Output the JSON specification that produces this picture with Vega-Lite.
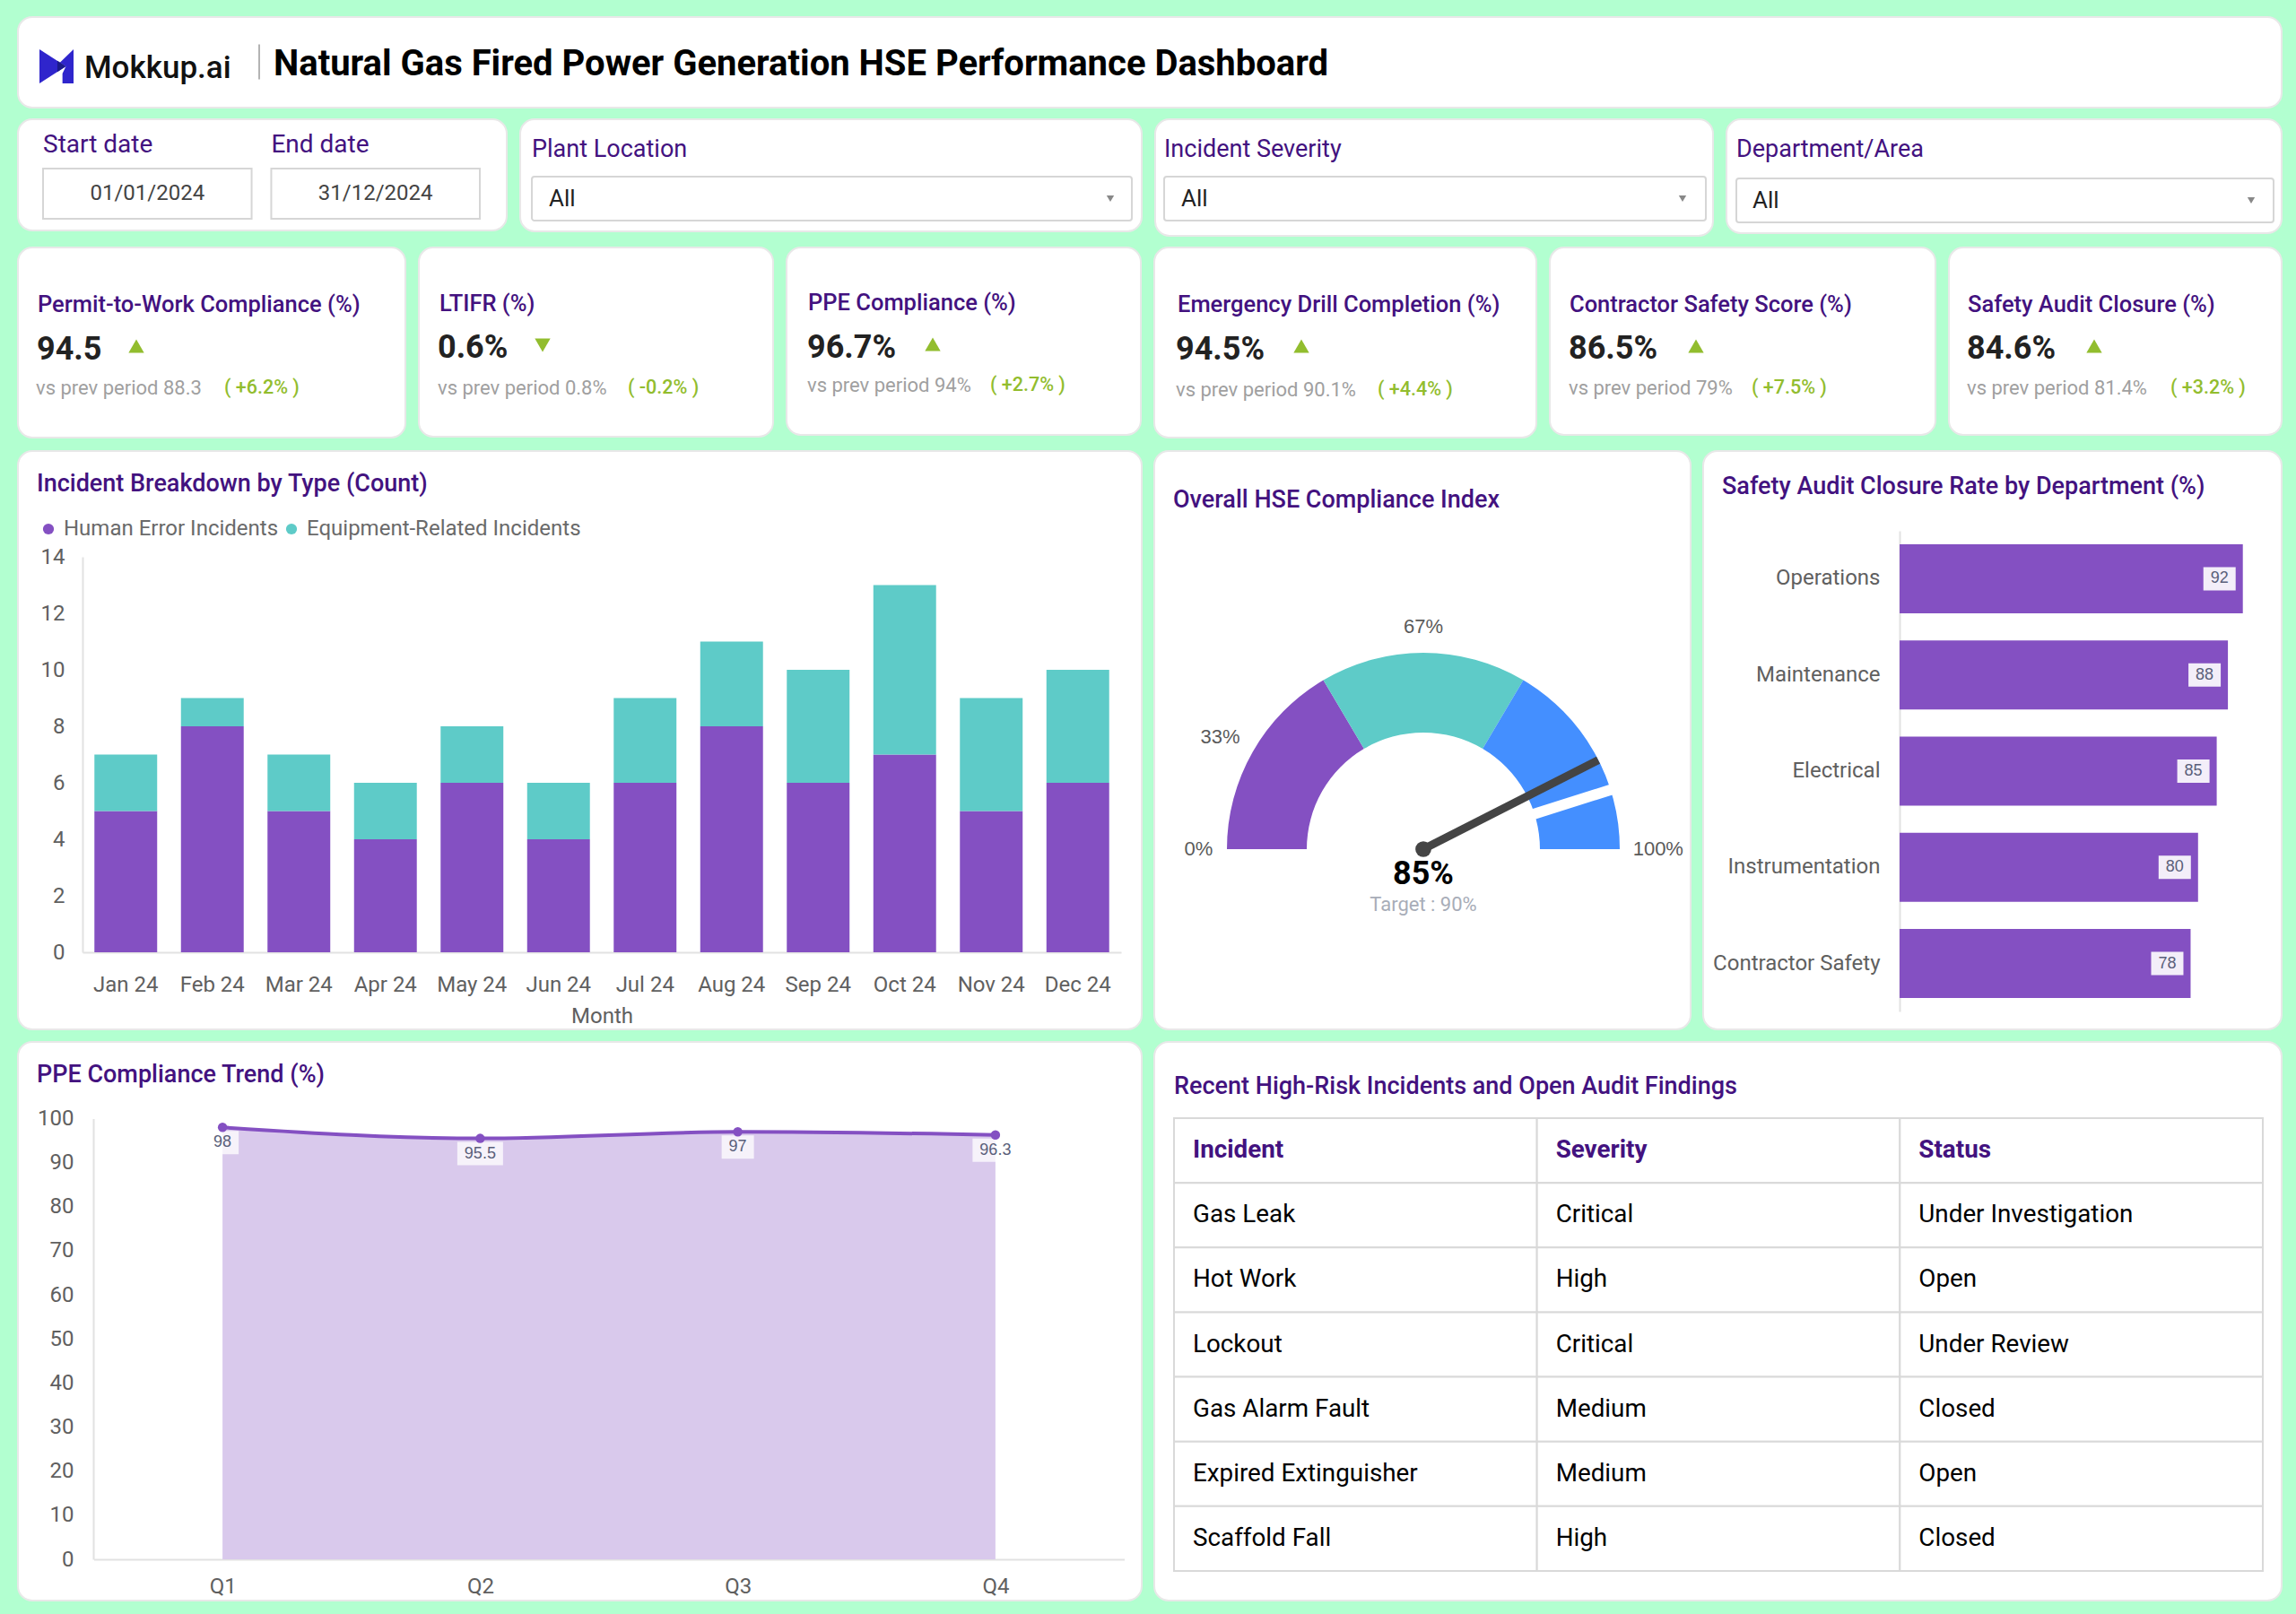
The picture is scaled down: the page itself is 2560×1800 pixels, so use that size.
{
"$schema":"https://vega.github.io/schema/vega-lite/v6.json",
"background":"#b2ffd0",
"padding":{"left":19,"top":18,"right":15,"bottom":14},
"config":{"font":"Roboto","view":{"stroke":null},"axis":{"labelFont":"Roboto","labelFontSize":24,"labelColor":"#606060","domainColor":"#e2e2e2","domainWidth":2,"ticks":false,"grid":false,"labelAngle":0}},
"spacing":0,
"resolve":{"scale":{"color":"independent"},"legend":{"color":"independent"}},
"vconcat":[
{"width":2524,"height":101,"view":{"fill":"white","stroke":"#e8e8e8","strokeWidth":2,"cornerRadius":16},
 "data":{"values":[{"slot":1,"part":"logo"},{"slot":2,"text":"Mokkup.ai"},{"slot":3,"part":"divider"},{"slot":4,"text":"Natural Gas Fired Power Generation HSE Performance Dashboard"}]},
 "encoding":{"x":{"field":"slot","type":"quantitative","axis":null,"scale":{"domain":[1,2,3,4],"range":[43,74,269,285]}},"y":{"field":"slot","type":"quantitative","axis":null,"scale":{"domain":[1,2,3,4],"range":[55,57,50,53]}}},
 "layer":[
  {"transform":[{"filter":"datum.slot==1"}],"mark":{"type":"point","filled":true,"opacity":1,"color":"#2f25cc","size":1444,"shape":"M-1,-1L0.55,0L-1,1Z"}},
  {"transform":[{"filter":"datum.slot==1"}],"mark":{"type":"point","filled":true,"opacity":1,"color":"#2f25cc","size":1444,"shape":"M1,-1L1,1L0.35,1L0.35,0.42L0.55,0L0.2,-0.22Z"}},
  {"transform":[{"filter":"datum.slot==1"}],"mark":{"type":"point","filled":true,"opacity":1,"color":"#1b1a8a","size":1444,"shape":"M0.05,-0.33L0.55,0L0.05,0.33Z"}},
  {"transform":[{"filter":"datum.slot==2"}],"mark":{"type":"text","align":"left","fontSize":35,"fontWeight":500,"color":"#111111"},"encoding":{"text":{"field":"text"}}},
  {"transform":[{"filter":"datum.slot==3"}],"mark":{"type":"point","filled":false,"opacity":1,"color":"#9a9a9a","strokeWidth":1.5,"size":1521,"shape":"M0,-1L0,1"}},
  {"transform":[{"filter":"datum.slot==4"}],"mark":{"type":"text","align":"left","fontSize":40,"fontWeight":700,"color":"#000000"},"encoding":{"text":{"field":"text"}}}
 ]},
{"width":1,"height":11,"data":{"values":[]},"mark":"rect"},
{"spacing":13,"resolve":{"scale":{"color":"independent"},"legend":{"color":"independent"}},"hconcat":[
 {"width":545,"height":124,"view":{"fill":"white","stroke":"#e8e8e8","strokeWidth":2,"cornerRadius":16},
  "data":{"values":[{"field":"Start date","value":"01/01/2024"},{"field":"End date","value":"31/12/2024"}]},
  "encoding":{"y":{"datum":"box","type":"nominal","scale":{"type":"band","domain":["box"],"range":[55,111],"padding":0},"axis":null}},
  "layer":[
   {"mark":{"type":"rect","fill":"white","stroke":"#d6d6d6","strokeWidth":2},"encoding":{"x":{"field":"field","type":"nominal","axis":null,"scale":{"type":"band","domain":["Start date","End date"],"range":[28,515],"paddingInner":0.086,"paddingOuter":0}}}},
   {"mark":{"type":"text","align":"center","fontSize":24,"color":"#444444"},"encoding":{"x":{"field":"field","type":"nominal","axis":null},"text":{"field":"value"}}},
   {"mark":{"type":"text","align":"left","fontSize":28,"dy":-54,"color":"#43127f"},"encoding":{"x":{"field":"field","type":"nominal","axis":null,"bandPosition":0},"text":{"field":"field"}}}
  ]},
 {"width":693,"height":125,"view":{"fill":"white","stroke":"#e8e8e8","strokeWidth":2,"cornerRadius":16},
  "data":{"values":[{"field":"Plant Location","value":"All"}]},
  "encoding":{"y":{"datum":"box","type":"nominal","scale":{"type":"band","domain":["box"],"range":[64,113],"padding":0},"axis":null}},
  "layer":[
   {"mark":{"type":"rect","fill":"white","stroke":"#d6d6d6","strokeWidth":2,"cornerRadius":3},"encoding":{"x":{"field":"field","type":"nominal","axis":null,"scale":{"type":"band","domain":["Plant Location"],"range":[13,682],"padding":0}}}},
   {"mark":{"type":"text","align":"left","fontSize":26,"dx":19,"color":"#222222"},"encoding":{"x":{"field":"field","type":"nominal","axis":null,"bandPosition":0},"text":{"field":"value"}}},
   {"mark":{"type":"text","align":"left","fontSize":27,"dy":-55,"color":"#43127f"},"encoding":{"x":{"field":"field","type":"nominal","axis":null,"bandPosition":0},"text":{"field":"field"}}},
   {"mark":{"type":"point","shape":"triangle-down","filled":true,"opacity":1,"size":70,"color":"#888888","xOffset":-24},"encoding":{"x":{"field":"field","type":"nominal","axis":null,"bandPosition":1}}}
  ]},
 {"width":622,"height":130,"view":{"fill":"white","stroke":"#e8e8e8","strokeWidth":2,"cornerRadius":16},
  "data":{"values":[{"field":"Incident Severity","value":"All"}]},
  "encoding":{"y":{"datum":"box","type":"nominal","scale":{"type":"band","domain":["box"],"range":[64,113],"padding":0},"axis":null}},
  "layer":[
   {"mark":{"type":"rect","fill":"white","stroke":"#d6d6d6","strokeWidth":2,"cornerRadius":3},"encoding":{"x":{"field":"field","type":"nominal","axis":null,"scale":{"type":"band","domain":["Incident Severity"],"range":[10,614],"padding":0}}}},
   {"mark":{"type":"text","align":"left","fontSize":26,"dx":19,"color":"#222222"},"encoding":{"x":{"field":"field","type":"nominal","axis":null,"bandPosition":0},"text":{"field":"value"}}},
   {"mark":{"type":"text","align":"left","fontSize":27,"dy":-55,"color":"#43127f"},"encoding":{"x":{"field":"field","type":"nominal","axis":null,"bandPosition":0},"text":{"field":"field"}}},
   {"mark":{"type":"point","shape":"triangle-down","filled":true,"opacity":1,"size":70,"color":"#888888","xOffset":-26},"encoding":{"x":{"field":"field","type":"nominal","axis":null,"bandPosition":1}}}
  ]},
 {"width":619,"height":127,"view":{"fill":"white","stroke":"#e8e8e8","strokeWidth":2,"cornerRadius":16},
  "data":{"values":[{"field":"Department/Area","value":"All"}]},
  "encoding":{"y":{"datum":"box","type":"nominal","scale":{"type":"band","domain":["box"],"range":[66,115],"padding":0},"axis":null}},
  "layer":[
   {"mark":{"type":"rect","fill":"white","stroke":"#d6d6d6","strokeWidth":2,"cornerRadius":3},"encoding":{"x":{"field":"field","type":"nominal","axis":null,"scale":{"type":"band","domain":["Department/Area"],"range":[11,610],"padding":0}}}},
   {"mark":{"type":"text","align":"left","fontSize":26,"dx":18,"color":"#222222"},"encoding":{"x":{"field":"field","type":"nominal","axis":null,"bandPosition":0},"text":{"field":"value"}}},
   {"mark":{"type":"text","align":"left","fontSize":27,"dy":-57,"color":"#43127f"},"encoding":{"x":{"field":"field","type":"nominal","axis":null,"bandPosition":0},"text":{"field":"field"}}},
   {"mark":{"type":"point","shape":"triangle-down","filled":true,"opacity":1,"size":70,"color":"#888888","xOffset":-25},"encoding":{"x":{"field":"field","type":"nominal","axis":null,"bandPosition":1}}}
  ]}
]},
{"width":1,"height":11,"data":{"values":[]},"mark":"rect"},
{"spacing":13,"resolve":{"scale":{"color":"independent"},"legend":{"color":"independent"}},"hconcat":[
 {"width":432,"height":212,"view":{"fill":"white","stroke":"#e8e8e8","strokeWidth":2,"cornerRadius":16},
  "data":{"values":[{"slot":1,"text":"Permit-to-Work Compliance (%)"},{"slot":2,"text":"94.5"},{"slot":3,"trend":"triangle-up"},{"slot":4,"text":"vs prev period 88.3"},{"slot":5,"text":"( +6.2% )"}]},
  "encoding":{"x":{"field":"slot","type":"quantitative","axis":null,"scale":{"domain":[1,2,3,4,5],"range":[22,21,132,20,230]}},"y":{"field":"slot","type":"quantitative","axis":null,"scale":{"domain":[1,2,3,4,5],"range":[64,114,110,157,157]}}},
  "layer":[
   {"transform":[{"filter":"datum.slot==1"}],"mark":{"type":"text","align":"left","fontSize":25.5,"fontWeight":500,"color":"#43127f"},"encoding":{"text":{"field":"text"}}},
   {"transform":[{"filter":"datum.slot==2"}],"mark":{"type":"text","align":"left","fontSize":36,"fontWeight":700,"color":"#222222"},"encoding":{"text":{"field":"text"}}},
   {"transform":[{"filter":"datum.slot==3"}],"mark":{"type":"point","filled":true,"opacity":1,"size":300,"color":"#92bd2e"},"encoding":{"shape":{"field":"trend","type":"nominal","scale":null,"legend":null}}},
   {"transform":[{"filter":"datum.slot==4"}],"mark":{"type":"text","align":"left","fontSize":22,"color":"#a0a0a0"},"encoding":{"text":{"field":"text"}}},
   {"transform":[{"filter":"datum.slot==5"}],"mark":{"type":"text","align":"left","fontSize":21.5,"fontWeight":500,"color":"#92bd2e"},"encoding":{"text":{"field":"text"}}}
  ]},
 {"width":395,"height":211,"view":{"fill":"white","stroke":"#e8e8e8","strokeWidth":2,"cornerRadius":16},
  "data":{"values":[{"slot":1,"text":"LTIFR (%)"},{"slot":2,"text":"0.6%"},{"slot":3,"trend":"triangle-down"},{"slot":4,"text":"vs prev period 0.8%"},{"slot":5,"text":"( -0.2% )"}]},
  "encoding":{"x":{"field":"slot","type":"quantitative","axis":null,"scale":{"domain":[1,2,3,4,5],"range":[23,21,138,21,233]}},"y":{"field":"slot","type":"quantitative","axis":null,"scale":{"domain":[1,2,3,4,5],"range":[62.5,112,109,156.5,156.5]}}},
  "layer":[
   {"transform":[{"filter":"datum.slot==1"}],"mark":{"type":"text","align":"left","fontSize":25.5,"fontWeight":500,"color":"#43127f"},"encoding":{"text":{"field":"text"}}},
   {"transform":[{"filter":"datum.slot==2"}],"mark":{"type":"text","align":"left","fontSize":36,"fontWeight":700,"color":"#222222"},"encoding":{"text":{"field":"text"}}},
   {"transform":[{"filter":"datum.slot==3"}],"mark":{"type":"point","filled":true,"opacity":1,"size":300,"color":"#92bd2e"},"encoding":{"shape":{"field":"trend","type":"nominal","scale":null,"legend":null}}},
   {"transform":[{"filter":"datum.slot==4"}],"mark":{"type":"text","align":"left","fontSize":22,"color":"#a0a0a0"},"encoding":{"text":{"field":"text"}}},
   {"transform":[{"filter":"datum.slot==5"}],"mark":{"type":"text","align":"left","fontSize":21.5,"fontWeight":500,"color":"#92bd2e"},"encoding":{"text":{"field":"text"}}}
  ]},
 {"width":395,"height":209,"view":{"fill":"white","stroke":"#e8e8e8","strokeWidth":2,"cornerRadius":16},
  "data":{"values":[{"slot":1,"text":"PPE Compliance (%)"},{"slot":2,"text":"96.7%"},{"slot":3,"trend":"triangle-up"},{"slot":4,"text":"vs prev period 94%"},{"slot":5,"text":"( +2.7% )"}]},
  "encoding":{"x":{"field":"slot","type":"quantitative","axis":null,"scale":{"domain":[1,2,3,4,5],"range":[24,23,163,23,227]}},"y":{"field":"slot","type":"quantitative","axis":null,"scale":{"domain":[1,2,3,4,5],"range":[62,112,108,154,154]}}},
  "layer":[
   {"transform":[{"filter":"datum.slot==1"}],"mark":{"type":"text","align":"left","fontSize":25.5,"fontWeight":500,"color":"#43127f"},"encoding":{"text":{"field":"text"}}},
   {"transform":[{"filter":"datum.slot==2"}],"mark":{"type":"text","align":"left","fontSize":36,"fontWeight":700,"color":"#222222"},"encoding":{"text":{"field":"text"}}},
   {"transform":[{"filter":"datum.slot==3"}],"mark":{"type":"point","filled":true,"opacity":1,"size":300,"color":"#92bd2e"},"encoding":{"shape":{"field":"trend","type":"nominal","scale":null,"legend":null}}},
   {"transform":[{"filter":"datum.slot==4"}],"mark":{"type":"text","align":"left","fontSize":22,"color":"#a0a0a0"},"encoding":{"text":{"field":"text"}}},
   {"transform":[{"filter":"datum.slot==5"}],"mark":{"type":"text","align":"left","fontSize":21.5,"fontWeight":500,"color":"#92bd2e"},"encoding":{"text":{"field":"text"}}}
  ]},
 {"width":426,"height":212,"view":{"fill":"white","stroke":"#e8e8e8","strokeWidth":2,"cornerRadius":16},
  "data":{"values":[{"slot":1,"text":"Emergency Drill Completion (%)"},{"slot":2,"text":"94.5%"},{"slot":3,"trend":"triangle-up"},{"slot":4,"text":"vs prev period 90.1%"},{"slot":5,"text":"( +4.4% )"}]},
  "encoding":{"x":{"field":"slot","type":"quantitative","axis":null,"scale":{"domain":[1,2,3,4,5],"range":[26,24,164,24,249]}},"y":{"field":"slot","type":"quantitative","axis":null,"scale":{"domain":[1,2,3,4,5],"range":[64,114,110,159,159]}}},
  "layer":[
   {"transform":[{"filter":"datum.slot==1"}],"mark":{"type":"text","align":"left","fontSize":25.5,"fontWeight":500,"color":"#43127f"},"encoding":{"text":{"field":"text"}}},
   {"transform":[{"filter":"datum.slot==2"}],"mark":{"type":"text","align":"left","fontSize":36,"fontWeight":700,"color":"#222222"},"encoding":{"text":{"field":"text"}}},
   {"transform":[{"filter":"datum.slot==3"}],"mark":{"type":"point","filled":true,"opacity":1,"size":300,"color":"#92bd2e"},"encoding":{"shape":{"field":"trend","type":"nominal","scale":null,"legend":null}}},
   {"transform":[{"filter":"datum.slot==4"}],"mark":{"type":"text","align":"left","fontSize":22,"color":"#a0a0a0"},"encoding":{"text":{"field":"text"}}},
   {"transform":[{"filter":"datum.slot==5"}],"mark":{"type":"text","align":"left","fontSize":21.5,"fontWeight":500,"color":"#92bd2e"},"encoding":{"text":{"field":"text"}}}
  ]},
 {"width":430,"height":209,"view":{"fill":"white","stroke":"#e8e8e8","strokeWidth":2,"cornerRadius":16},
  "data":{"values":[{"slot":1,"text":"Contractor Safety Score (%)"},{"slot":2,"text":"86.5%"},{"slot":3,"trend":"triangle-up"},{"slot":4,"text":"vs prev period 79%"},{"slot":5,"text":"( +7.5% )"}]},
  "encoding":{"x":{"field":"slot","type":"quantitative","axis":null,"scale":{"domain":[1,2,3,4,5],"range":[22,21,163,21,225]}},"y":{"field":"slot","type":"quantitative","axis":null,"scale":{"domain":[1,2,3,4,5],"range":[64,113,110,157,157]}}},
  "layer":[
   {"transform":[{"filter":"datum.slot==1"}],"mark":{"type":"text","align":"left","fontSize":25.5,"fontWeight":500,"color":"#43127f"},"encoding":{"text":{"field":"text"}}},
   {"transform":[{"filter":"datum.slot==2"}],"mark":{"type":"text","align":"left","fontSize":36,"fontWeight":700,"color":"#222222"},"encoding":{"text":{"field":"text"}}},
   {"transform":[{"filter":"datum.slot==3"}],"mark":{"type":"point","filled":true,"opacity":1,"size":300,"color":"#92bd2e"},"encoding":{"shape":{"field":"trend","type":"nominal","scale":null,"legend":null}}},
   {"transform":[{"filter":"datum.slot==4"}],"mark":{"type":"text","align":"left","fontSize":22,"color":"#a0a0a0"},"encoding":{"text":{"field":"text"}}},
   {"transform":[{"filter":"datum.slot==5"}],"mark":{"type":"text","align":"left","fontSize":21.5,"fontWeight":500,"color":"#92bd2e"},"encoding":{"text":{"field":"text"}}}
  ]},
 {"width":371,"height":209,"view":{"fill":"white","stroke":"#e8e8e8","strokeWidth":2,"cornerRadius":16},
  "data":{"values":[{"slot":1,"text":"Safety Audit Closure (%)"},{"slot":2,"text":"84.6%"},{"slot":3,"trend":"triangle-up"},{"slot":4,"text":"vs prev period 81.4%"},{"slot":5,"text":"( +3.2% )"}]},
  "encoding":{"x":{"field":"slot","type":"quantitative","axis":null,"scale":{"domain":[1,2,3,4,5],"range":[21,20,162,20,247]}},"y":{"field":"slot","type":"quantitative","axis":null,"scale":{"domain":[1,2,3,4,5],"range":[64,113,110,157,157]}}},
  "layer":[
   {"transform":[{"filter":"datum.slot==1"}],"mark":{"type":"text","align":"left","fontSize":25.5,"fontWeight":500,"color":"#43127f"},"encoding":{"text":{"field":"text"}}},
   {"transform":[{"filter":"datum.slot==2"}],"mark":{"type":"text","align":"left","fontSize":36,"fontWeight":700,"color":"#222222"},"encoding":{"text":{"field":"text"}}},
   {"transform":[{"filter":"datum.slot==3"}],"mark":{"type":"point","filled":true,"opacity":1,"size":300,"color":"#92bd2e"},"encoding":{"shape":{"field":"trend","type":"nominal","scale":null,"legend":null}}},
   {"transform":[{"filter":"datum.slot==4"}],"mark":{"type":"text","align":"left","fontSize":22,"color":"#a0a0a0"},"encoding":{"text":{"field":"text"}}},
   {"transform":[{"filter":"datum.slot==5"}],"mark":{"type":"text","align":"left","fontSize":21.5,"fontWeight":500,"color":"#92bd2e"},"encoding":{"text":{"field":"text"}}}
  ]}
]},
{"width":1,"height":13,"data":{"values":[]},"mark":"rect"},
{"spacing":12,"resolve":{"scale":{"color":"independent"},"legend":{"color":"independent"}},"hconcat":[
 {"width":1253,"height":645,"view":{"fill":"white","stroke":"#e8e8e8","strokeWidth":2,"cornerRadius":16},
  "title":{"text":"Incident Breakdown by Type (Count)","anchor":"start","frame":"group","offset":-64,"baseline":"middle","dx":21,"fontSize":27,"fontWeight":500,"color":"#43127f"},
  "data":{"values":[
   {"month":"Jan 24","type":"Human Error Incidents","count":5},{"month":"Jan 24","type":"Equipment-Related Incidents","count":2},
   {"month":"Feb 24","type":"Human Error Incidents","count":8},{"month":"Feb 24","type":"Equipment-Related Incidents","count":1},
   {"month":"Mar 24","type":"Human Error Incidents","count":5},{"month":"Mar 24","type":"Equipment-Related Incidents","count":2},
   {"month":"Apr 24","type":"Human Error Incidents","count":4},{"month":"Apr 24","type":"Equipment-Related Incidents","count":2},
   {"month":"May 24","type":"Human Error Incidents","count":6},{"month":"May 24","type":"Equipment-Related Incidents","count":2},
   {"month":"Jun 24","type":"Human Error Incidents","count":4},{"month":"Jun 24","type":"Equipment-Related Incidents","count":2},
   {"month":"Jul 24","type":"Human Error Incidents","count":6},{"month":"Jul 24","type":"Equipment-Related Incidents","count":3},
   {"month":"Aug 24","type":"Human Error Incidents","count":8},{"month":"Aug 24","type":"Equipment-Related Incidents","count":3},
   {"month":"Sep 24","type":"Human Error Incidents","count":6},{"month":"Sep 24","type":"Equipment-Related Incidents","count":4},
   {"month":"Oct 24","type":"Human Error Incidents","count":7},{"month":"Oct 24","type":"Equipment-Related Incidents","count":6},
   {"month":"Nov 24","type":"Human Error Incidents","count":5},{"month":"Nov 24","type":"Equipment-Related Incidents","count":4},
   {"month":"Dec 24","type":"Human Error Incidents","count":6},{"month":"Dec 24","type":"Equipment-Related Incidents","count":4}
  ]},
  "layer":[{"mark":{"type":"bar"},
   "encoding":{
    "x":{"field":"month","type":"nominal","scale":{"type":"band","domain":["Jan 24","Feb 24","Mar 24","Apr 24","May 24","Jun 24","Jul 24","Aug 24","Sep 24","Oct 24","Nov 24","Dec 24"],"range":[72,1230],"paddingInner":0.275,"paddingOuter":0.1375},"axis":{"offset":-86,"labelPadding":24,"title":"Month","titleFont":"Roboto","titleFontSize":24,"titleFontWeight":400,"titleColor":"#606060","titlePadding":11}},
    "y":{"field":"count","type":"quantitative","stack":"zero","scale":{"domain":[0,14],"range":[559,118]},"axis":{"title":null,"offset":-72,"labelPadding":20,"values":[0,2,4,6,8,10,12,14]}},
    "color":{"field":"type","type":"nominal","scale":{"domain":["Human Error Incidents","Equipment-Related Incidents"],"range":["#8450c2","#5ecbc8"]},"legend":{"orient":"none","legendX":22,"legendY":75,"direction":"horizontal","title":null,"symbolType":"circle","symbolSize":150,"symbolOpacity":1,"labelFont":"Roboto","labelFontSize":24,"labelColor":"#6a6a6a","labelLimit":500,"columnPadding":2,"labelOffset":5,"columns":2}},
    "order":{"field":"type","sort":"descending"}
   }}]},
 {"width":598,"height":645,"view":{"fill":"white","stroke":"#e8e8e8","strokeWidth":2,"cornerRadius":16},
  "title":{"text":"Overall HSE Compliance Index","anchor":"start","frame":"group","offset":-82,"baseline":"middle","dx":21,"fontSize":27,"fontWeight":500,"color":"#43127f"},
  "layer":[
   {"data":{"values":[{"band":"low","from":0,"to":33},{"band":"mid","from":33,"to":67},{"band":"high","from":67,"to":100}]},
    "mark":{"type":"arc","radius":219,"radius2":130,"xOffset":1,"yOffset":121.5},
    "encoding":{
     "theta":{"field":"from","type":"quantitative","scale":{"domain":[0,100],"range":[-1.5708,1.5708]}},
     "theta2":{"field":"to"},
     "color":{"field":"band","type":"nominal","scale":{"domain":["low","mid","high"],"range":["#8450c2","#5ecbc8","#448fff"]},"legend":null}
    }},
   {"data":{"values":[{"pct":90}]},
    "mark":{"type":"rule","color":"white","strokeWidth":12},
    "encoding":{"x":{"field":"pct","type":"quantitative","axis":null,"scale":{"domain":[0,33,67,85,90,100],"range":[49.5,73.6,300,495,524,561.8]}},"y":{"field":"pct","type":"quantitative","axis":null,"scale":{"domain":[0,33,67,85,90,100],"range":[444,318.7,196,344.7,373,444]}},"x2":{"datum":67},"y2":{"datum":0}}},
   {"data":{"values":[{"pct":85}]},
    "mark":{"type":"rule","color":"#444444","strokeWidth":9},
    "encoding":{"x":{"field":"pct","type":"quantitative"},"y":{"field":"pct","type":"quantitative"},"x2":{"datum":67},"y2":{"datum":0}}},
   {"data":{"values":[{"pct":85}]},
    "mark":{"type":"point","filled":true,"opacity":1,"size":314,"color":"#444444"},
    "encoding":{"x":{"datum":67,"type":"quantitative"},"y":{"datum":0,"type":"quantitative"}}},
   {"data":{"values":[{"pct":0,"label":"0%"},{"pct":33,"label":"33%"},{"pct":67,"label":"67%"},{"pct":100,"label":"100%"}]},
    "mark":{"type":"text","font":"Liberation Sans","fontSize":22,"color":"#5a5a5a"},
    "encoding":{"x":{"field":"pct","type":"quantitative"},"y":{"field":"pct","type":"quantitative"},"text":{"field":"label"}}},
   {"data":{"values":[{"label":"85%"}]},
    "mark":{"type":"text","fontSize":36,"fontWeight":700,"dy":28,"color":"#000000"},
    "encoding":{"x":{"datum":67,"type":"quantitative"},"y":{"datum":0,"type":"quantitative"},"text":{"field":"label"}}},
   {"data":{"values":[{"label":"Target : 90%"}]},
    "mark":{"type":"text","fontSize":22,"dy":62,"color":"#a8adb8"},
    "encoding":{"x":{"datum":67,"type":"quantitative"},"y":{"datum":0,"type":"quantitative"},"text":{"field":"label"}}}
  ]},
 {"width":645,"height":645,"view":{"fill":"white","stroke":"#e8e8e8","strokeWidth":2,"cornerRadius":16},
  "title":{"text":"Safety Audit Closure Rate by Department (%)","anchor":"start","frame":"group","offset":-67,"baseline":"middle","dx":21,"fontSize":27,"fontWeight":500,"color":"#43127f"},
  "data":{"values":[{"dept":"Operations","rate":92},{"dept":"Maintenance","rate":88},{"dept":"Electrical","rate":85},{"dept":"Instrumentation","rate":80},{"dept":"Contractor Safety","rate":78}]},
  "encoding":{
   "x":{"field":"rate","type":"quantitative","axis":null,"scale":{"domain":[0,100],"range":[219,635]}},
   "y":{"field":"dept","type":"nominal","scale":{"type":"band","domain":["Operations","Maintenance","Electrical","Instrumentation","Contractor Safety"],"range":[89,625],"paddingInner":0.283,"paddingOuter":0.14},"axis":{"title":null,"offset":-219,"labelPadding":22,"labelLimit":300}}
  },
  "layer":[
   {"mark":{"type":"bar","color":"#8450c2"}},
   {"mark":{"type":"point","filled":true,"opacity":0.9,"color":"white","size":1296,"shape":"M-1,-0.722H1V0.722H-1Z","xOffset":-26}},
   {"mark":{"type":"text","font":"Liberation Sans","fontSize":18,"color":"#5a5f7a","xOffset":-26},"encoding":{"text":{"field":"rate"}}}
  ]}
]},
{"width":1,"height":12,"data":{"values":[]},"mark":"rect"},
{"spacing":12,"resolve":{"scale":{"color":"independent"},"legend":{"color":"independent"}},"hconcat":[
 {"width":1253,"height":623,"view":{"fill":"white","stroke":"#e8e8e8","strokeWidth":2,"cornerRadius":16},
  "title":{"text":"PPE Compliance Trend (%)","anchor":"start","frame":"group","offset":-64,"baseline":"middle","dx":21,"fontSize":27,"fontWeight":500,"color":"#43127f"},
  "data":{"values":[{"quarter":"Q1","ppe":98},{"quarter":"Q2","ppe":95.5},{"quarter":"Q3","ppe":97},{"quarter":"Q4","ppe":96.3}]},
  "encoding":{
   "x":{"field":"quarter","type":"nominal","scale":{"type":"point","domain":["Q1","Q2","Q3","Q4"],"range":[84.5,1233.5],"padding":0.5},"axis":{"title":null,"offset":-46,"labelPadding":18}},
   "y":{"field":"ppe","type":"quantitative","scale":{"domain":[0,100],"range":[577,85.5]},"axis":{"title":null,"offset":-84,"labelPadding":22,"values":[0,10,20,30,40,50,60,70,80,90,100]}}
  },
  "layer":[
   {"mark":{"type":"area","interpolate":"monotone","color":"#d9c9ec","opacity":1}},
   {"transform":[{"filter":"datum.ppe % 1 == 0"}],"mark":{"type":"point","filled":true,"opacity":0.75,"color":"white","size":1296,"shape":"M-1,-0.722H1V0.722H-1Z","yOffset":17}},
   {"transform":[{"filter":"datum.ppe % 1 != 0"}],"mark":{"type":"point","filled":true,"opacity":0.75,"color":"white","size":2601,"shape":"M-1,-0.51H1V0.51H-1Z","yOffset":17}},
   {"mark":{"type":"line","interpolate":"monotone","color":"#8450c2","strokeWidth":4}},
   {"mark":{"type":"point","filled":true,"opacity":1,"color":"#8450c2","size":110}},
   {"mark":{"type":"text","font":"Liberation Sans","fontSize":18,"color":"#5a5f7a","yOffset":17},"encoding":{"text":{"field":"ppe"}}}
  ]},
 {"width":1257,"height":623,"view":{"fill":"white","stroke":"#e8e8e8","strokeWidth":2,"cornerRadius":16},
  "title":{"text":"Recent High-Risk Incidents and Open Audit Findings","anchor":"start","frame":"group","offset":-77,"baseline":"middle","dx":22,"fontSize":27,"fontWeight":500,"color":"#43127f"},
  "data":{"values":[
   {"row":"Header","col":"Incident","text":"Incident"},{"row":"Header","col":"Severity","text":"Severity"},{"row":"Header","col":"Status","text":"Status"},
   {"row":"Gas Leak","col":"Incident","text":"Gas Leak"},{"row":"Gas Leak","col":"Severity","text":"Critical"},{"row":"Gas Leak","col":"Status","text":"Under Investigation"},
   {"row":"Hot Work","col":"Incident","text":"Hot Work"},{"row":"Hot Work","col":"Severity","text":"High"},{"row":"Hot Work","col":"Status","text":"Open"},
   {"row":"Lockout","col":"Incident","text":"Lockout"},{"row":"Lockout","col":"Severity","text":"Critical"},{"row":"Lockout","col":"Status","text":"Under Review"},
   {"row":"Gas Alarm Fault","col":"Incident","text":"Gas Alarm Fault"},{"row":"Gas Alarm Fault","col":"Severity","text":"Medium"},{"row":"Gas Alarm Fault","col":"Status","text":"Closed"},
   {"row":"Expired Extinguisher","col":"Incident","text":"Expired Extinguisher"},{"row":"Expired Extinguisher","col":"Severity","text":"Medium"},{"row":"Expired Extinguisher","col":"Status","text":"Open"},
   {"row":"Scaffold Fall","col":"Incident","text":"Scaffold Fall"},{"row":"Scaffold Fall","col":"Severity","text":"High"},{"row":"Scaffold Fall","col":"Status","text":"Closed"}
  ]},
  "encoding":{
   "y":{"field":"row","type":"nominal","axis":null,"scale":{"type":"band","domain":["Header","Gas Leak","Hot Work","Lockout","Gas Alarm Fault","Expired Extinguisher","Scaffold Fall"],"range":[85,590],"padding":0}}
  },
  "layer":[
   {"mark":{"type":"rect","fill":"white","stroke":"#d9d9d9","strokeWidth":2},"encoding":{"x":{"field":"col","type":"nominal","axis":null,"scale":{"type":"band","domain":["Incident","Severity","Status"],"range":[22,1236],"padding":0}}}},
   {"transform":[{"filter":"datum.row != 'Header'"}],"mark":{"type":"text","align":"left","dx":21,"fontSize":27.8,"color":"#000000"},"encoding":{"x":{"field":"col","type":"nominal","axis":null,"bandPosition":0},"text":{"field":"text"}}},
   {"transform":[{"filter":"datum.row == 'Header'"}],"mark":{"type":"text","align":"left","dx":21,"fontSize":27.8,"fontWeight":700,"color":"#43127f"},"encoding":{"x":{"field":"col","type":"nominal","axis":null,"bandPosition":0},"text":{"field":"text"}}}
  ]}
]}
]
}
